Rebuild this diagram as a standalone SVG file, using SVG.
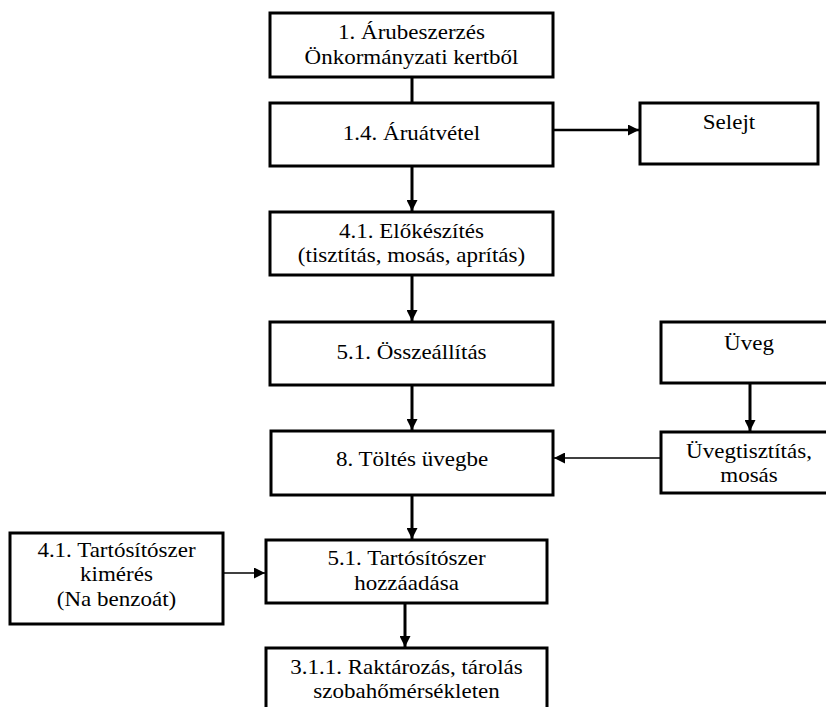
<svg xmlns="http://www.w3.org/2000/svg" width="826" height="707" viewBox="0 0 826 707">
<defs>
<style>
.box{fill:#fff;stroke:#000;stroke-width:3}
.t{font-family:"Liberation Serif","Times New Roman",serif;font-size:20px;fill:#000;text-anchor:middle}
.c{stroke:#000;fill:none;stroke-width:3}
.thin{stroke-width:1.5}
</style>
<marker id="ah" viewBox="0 0 10 10" refX="10" refY="5" markerWidth="11" markerHeight="11" markerUnits="userSpaceOnUse" orient="auto">
<path d="M0,0 L10,5 L0,10 z" fill="#000"/>
</marker>
</defs>
<rect width="826" height="707" fill="#fff"/>
<g id="connectors">
<line class="c" x1="412" y1="77" x2="412" y2="103"/>
<line class="c" x1="412" y1="166" x2="412" y2="211" marker-end="url(#ah)"/>
<line class="c" x1="412" y1="275" x2="412" y2="321" marker-end="url(#ah)"/>
<line class="c" x1="412" y1="385" x2="412" y2="430" marker-end="url(#ah)"/>
<line class="c" x1="412" y1="495" x2="412" y2="539" marker-end="url(#ah)"/>
<line class="c" x1="405" y1="603" x2="405" y2="647" marker-end="url(#ah)"/>
<line class="c" style="stroke-width:2.5" x1="553" y1="130" x2="639" y2="130" marker-end="url(#ah)"/>
<line class="c" x1="750" y1="383" x2="750" y2="431" marker-end="url(#ah)"/>
<line class="c thin" x1="661" y1="458" x2="554" y2="458" marker-end="url(#ah)"/>
<line class="c thin" x1="223" y1="573" x2="265" y2="573" marker-end="url(#ah)"/>
</g>
<g id="n1">
<rect class="box" x="270" y="13" width="283" height="64"/>
<g transform="translate(411.5 0) scale(1.15 1)"><text class="t" x="0" y="39">1. Árubeszerzés</text><text class="t" x="0" y="64">Önkormányzati kertből</text></g>
</g>
<g id="n14">
<rect class="box" x="270" y="103" width="283" height="63"/>
<g transform="translate(411.5 0) scale(1.15 1)"><text class="t" x="0" y="140">1.4. Áruátvétel</text></g>
</g>
<g id="selejt">
<rect class="box" x="640" y="103" width="178" height="61"/>
<g transform="translate(729 0) scale(1.15 1)"><text class="t" x="0" y="129">Selejt</text></g>
</g>
<g id="n41">
<rect class="box" x="270" y="212" width="283" height="63"/>
<g transform="translate(411.5 0) scale(1.15 1)"><text class="t" x="0" y="238">4.1. Előkészítés</text><text class="t" x="0" y="262">(tisztítás, mosás, aprítás)</text></g>
</g>
<g id="n51">
<rect class="box" x="270" y="322" width="283" height="63"/>
<g transform="translate(411.5 0) scale(1.15 1)"><text class="t" x="0" y="359">5.1. Összeállítás</text></g>
</g>
<g id="uveg">
<rect class="box" x="661" y="322" width="176" height="61"/>
<g transform="translate(749 0) scale(1.15 1)"><text class="t" x="0" y="350">Üveg</text></g>
</g>
<g id="n8">
<rect class="box" x="271" y="431" width="282" height="64"/>
<g transform="translate(412 0) scale(1.15 1)"><text class="t" x="0" y="466">8. Töltés üvegbe</text></g>
</g>
<g id="uvegtisztitas">
<rect class="box" x="661" y="432" width="176" height="61"/>
<g transform="translate(749 0) scale(1.15 1)"><text class="t" x="0" y="458">Üvegtisztítás,</text><text class="t" x="0" y="482">mosás</text></g>
</g>
<g id="n41t">
<rect class="box" x="10" y="533" width="213" height="91"/>
<g transform="translate(116.5 0) scale(1.15 1)"><text class="t" x="0" y="557">4.1. Tartósítószer</text><text class="t" x="0" y="581">kimérés</text><text class="t" x="0" y="606">(Na benzoát)</text></g>
</g>
<g id="n51t">
<rect class="box" x="266" y="540" width="281" height="63"/>
<g transform="translate(406.5 0) scale(1.15 1)"><text class="t" x="0" y="565">5.1. Tartósítószer</text><text class="t" x="0" y="590">hozzáadása</text></g>
</g>
<g id="n311">
<rect class="box" x="266" y="648" width="281" height="70"/>
<g transform="translate(406.5 0) scale(1.15 1)"><text class="t" x="0" y="674">3.1.1. Raktározás, tárolás</text><text class="t" x="0" y="698">szobahőmérsékleten</text></g>
</g>
</svg>
